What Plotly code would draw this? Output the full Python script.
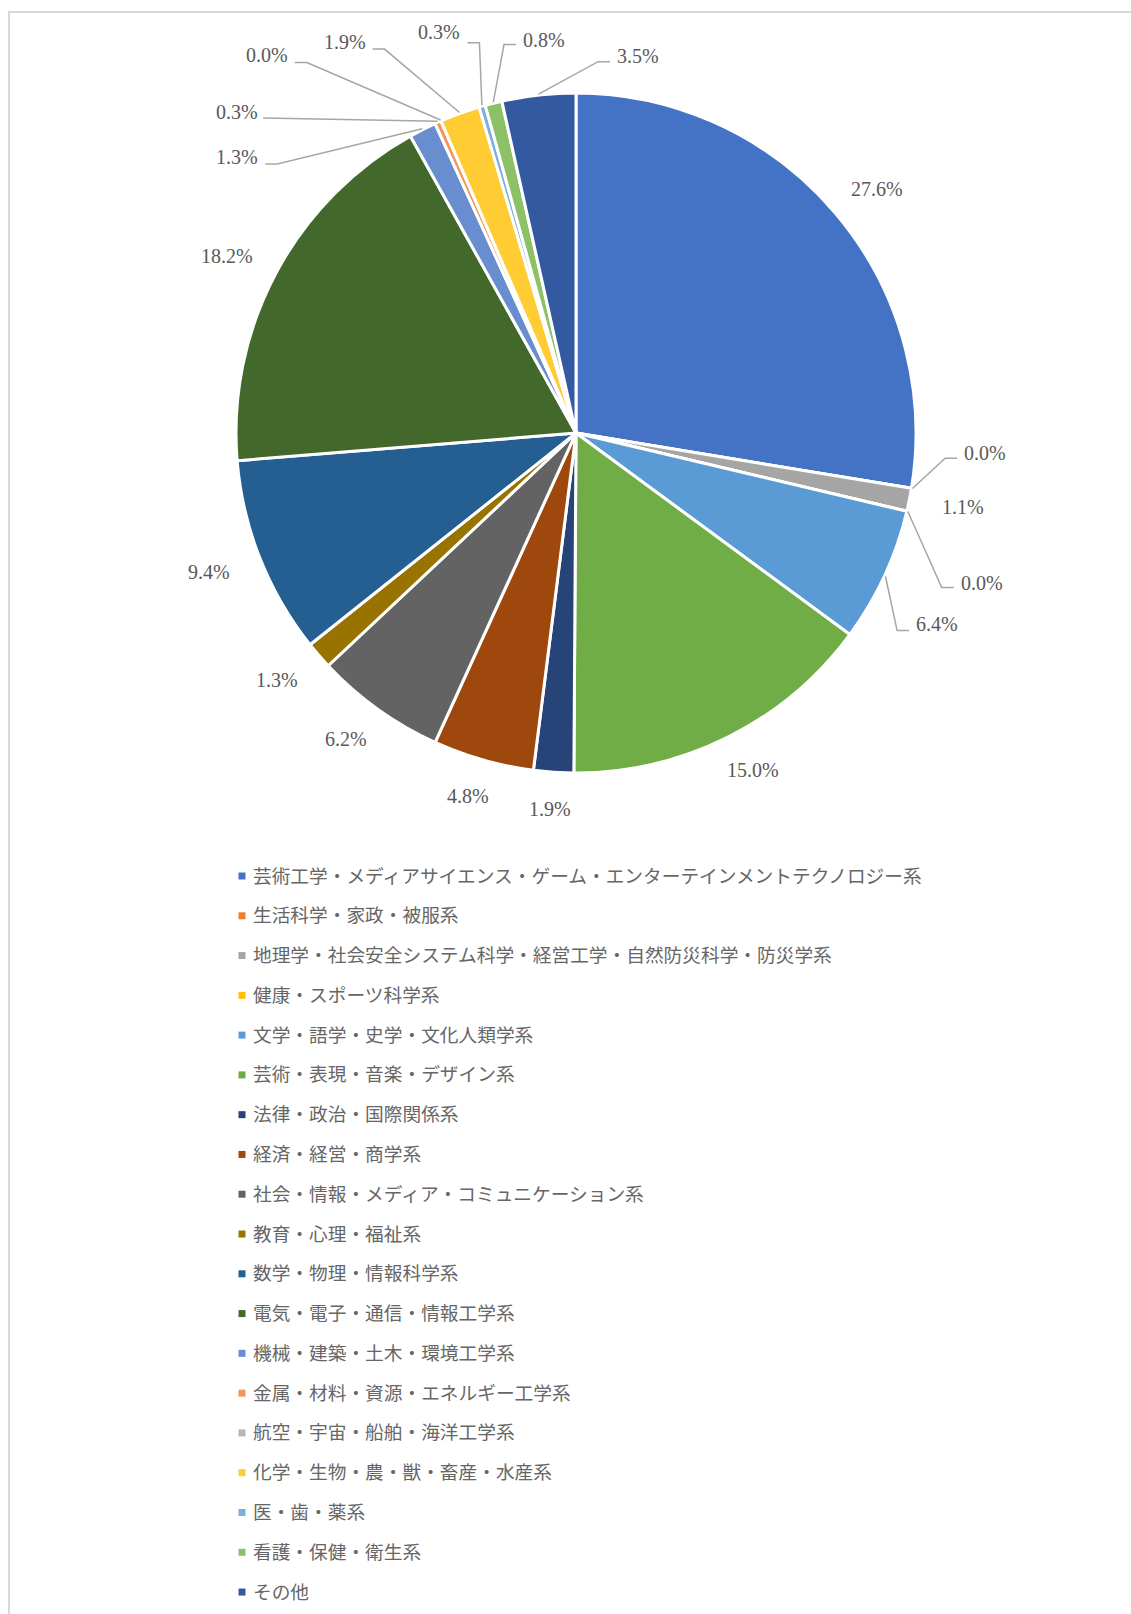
import math
import plotly.graph_objects as go

# ---- data -------------------------------------------------------------
categories = [
    "芸術工学・メディアサイエンス・ゲーム・エンターテインメントテクノロジー系",
    "生活科学・家政・被服系",
    "地理学・社会安全システム科学・経営工学・自然防災科学・防災学系",
    "健康・スポーツ科学系",
    "文学・語学・史学・文化人類学系",
    "芸術・表現・音楽・デザイン系",
    "法律・政治・国際関係系",
    "経済・経営・商学系",
    "社会・情報・メディア・コミュニケーション系",
    "教育・心理・福祉系",
    "数学・物理・情報科学系",
    "電気・電子・通信・情報工学系",
    "機械・建築・土木・環境工学系",
    "金属・材料・資源・エネルギー工学系",
    "航空・宇宙・船舶・海洋工学系",
    "化学・生物・農・獣・畜産・水産系",
    "医・歯・薬系",
    "看護・保健・衛生系",
    "その他",
]
shares = [27.6, 0.0, 1.1, 0.0, 6.4, 15.0, 1.9, 4.8, 6.2, 1.3,
          9.4, 18.2, 1.3, 0.3, 0.0, 1.9, 0.3, 0.8, 3.5]
share_labels = [f"{v:.1f}%" for v in shares]

colors = [
    "#4472C4", "#ED7D31", "#A5A5A5", "#FFC000", "#5B9BD5", "#70AD47",
    "#264478", "#9E480E", "#636363", "#997300", "#255E91", "#43682B",
    "#698ED0", "#F1975A", "#B7B7B7", "#FFCD33", "#7CAFDD", "#8CC168",
    "#335AA1",
]

# ---- layout geometry (pixels) ----------------------------------------
W, H = 1131, 1614
CX, CY = 576, 433
R_BOX = 340                      # half-size of the pie domain
R = 339                          # visible radius (white outline eats ~1px)
LABEL_RX, LABEL_RY = 395, 377    # ellipse of plain label centres
TEXT_GREY = "#595959"
LINE_GREY = "#A6A6A6"
NUM_FONT = "Liberation Serif, 'Noto Sans CJK JP', serif"
JP_FONT = "'Liberation Serif', 'Noto Sans CJK JP', serif"

# callout labels: index -> (elbow angle deg, elbow radius, tail side, text dy)
callouts = {
    1: (93.9, 369, +1, -5),
    3: (112.9, 396, +1, -4),
    4: (121.6, 376, +1, -7),
    12: (312.0, 401, -1, -7),
    13: (315.2, 443, 0, -6),
    14: (324.0, 457, -1, -7),
    15: (333.5, 428, -1, -7),
    16: (346.1, 401, -1, -11),
    17: (349.5, 394, +1, -5),
    18: (3.4, 371, +1, -6),
}
TAIL = 12
GAP = 5


def px(x):
    return x / W


def py(y):
    return 1 - y / H


def polar(theta_deg, r):
    t = math.radians(theta_deg)
    return CX + r * math.sin(t), CY - r * math.cos(t)


total = sum(shares)
mids = []
acc = 0.0
for v in shares:
    start = acc / total * 360
    acc += v
    end = acc / total * 360
    mids.append((start + end) / 2)

fig = go.Figure()
fig.add_trace(go.Pie(
    labels=categories,
    values=shares,
    sort=False,
    direction="clockwise",
    rotation=0,
    marker=dict(colors=colors, line=dict(color="white", width=3)),
    textinfo="none",
    hoverinfo="label+percent",
    showlegend=False,
    domain=dict(x=[px(CX - R_BOX), px(CX + R_BOX)],
                y=[py(CY + R_BOX), py(CY - R_BOX)]),
))

annotations = []
shapes = []

# chart frame
shapes.append(dict(type="rect", xref="paper", yref="paper",
                   x0=px(9), y0=py(12), x1=px(W + 20), y1=py(H + 20),
                   line=dict(color="#D9D9D9", width=2), layer="below"))

# data labels
for i, text in enumerate(share_labels):
    if i in callouts:
        ang, rad, side, dy = callouts[i]
        sx, sy = polar(mids[i], R + 2)
        ex, ey = polar(ang, rad + 1)
        pts = [(sx, sy), (ex, ey)]
        if side != 0:
            pts.append((ex + side * TAIL, ey))
        path = "M " + " L ".join(f"{px(x):.6f},{py(y):.6f}" for x, y in pts)
        shapes.append(dict(type="path", xref="paper", yref="paper", path=path,
                           line=dict(color=LINE_GREY, width=1.5)))
        if side > 0:
            tx, anchor = ex + TAIL + GAP, "left"
        elif side < 0:
            tx, anchor = ex - TAIL - GAP, "right"
        else:
            tx, anchor = ex - 3, "right"
        annotations.append(dict(x=px(tx), y=py(ey + dy), xref="paper", yref="paper",
                                text=text, showarrow=False, xanchor=anchor,
                                yanchor="middle",
                                font=dict(family=NUM_FONT, size=20, color=TEXT_GREY)))
    else:
        t = math.radians(mids[i])
        lx = CX + LABEL_RX * math.sin(t)
        ly = CY - LABEL_RY * math.cos(t)
        annotations.append(dict(x=px(lx), y=py(ly), xref="paper", yref="paper",
                                text=text, showarrow=False, xanchor="center",
                                yanchor="middle",
                                font=dict(family=NUM_FONT, size=20, color=TEXT_GREY)))

# legend
LEG_Y0, LEG_STEP = 876, 39.78
LEG_MX, LEG_SQ, LEG_TX = 238.5, 7, 251
for i, (name, col) in enumerate(zip(categories, colors)):
    yc = LEG_Y0 + i * LEG_STEP
    shapes.append(dict(type="rect", xref="paper", yref="paper",
                       x0=px(LEG_MX), x1=px(LEG_MX + LEG_SQ),
                       y0=py(yc + LEG_SQ / 2), y1=py(yc - LEG_SQ / 2),
                       fillcolor=col, line=dict(width=0)))
    annotations.append(dict(x=px(LEG_TX), y=py(yc), xref="paper", yref="paper",
                            text=name, showarrow=False, xanchor="left",
                            yanchor="middle",
                            font=dict(family=JP_FONT, size=18.7, color="#666666")))

fig.update_layout(
    width=W, height=H,
    margin=dict(l=0, r=0, t=0, b=0, pad=0),
    paper_bgcolor="white",
    plot_bgcolor="white",
    showlegend=False,
    annotations=annotations,
    shapes=shapes,
)

fig.write_html("out.html", config={"displayModeBar": False})
